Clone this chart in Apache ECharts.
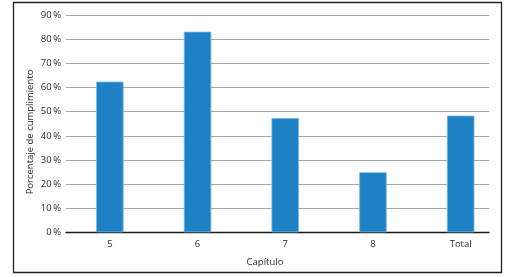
<!DOCTYPE html>
<html><head><meta charset="utf-8">
<script src="https://cdn.jsdelivr.net/npm/echarts@6/dist/echarts.min.js"></script>
<style>html,body{margin:0;padding:0;background:#fff}#c{width:516px;height:277px}</style>
</head><body><div id="c"></div>
<script>
var categories = ['5', '6', '7', '8', 'Total'];
var values = [0.625, 0.832, 0.474, 0.249, 0.484];
var yTicks = [0, 0.1, 0.2, 0.3, 0.4, 0.5, 0.6, 0.7, 0.8, 0.9];
var yTitle = 'Porcentaje de cumplimiento';
var xTitle = 'Capítulo';

var chart = echarts.init(document.getElementById('c'), null, {renderer: 'canvas'});
var font = '"Open Sans", "Noto Sans", sans-serif';
chart.setOption({
  animation: false,
  textStyle: {fontFamily: font},
  grid: [
    {left: 66, right: 27, top: 15.3, bottom: 44.7},
    {left: 66, width: 438.5, top: 15.3, bottom: 44.7}
  ],
  xAxis: [
    {gridIndex: 0, type: 'value', min: 0, max: 1, axisLabel: {show: false}, axisTick: {show: false},
     splitLine: {show: false}, axisLine: {show: true, lineStyle: {color: '#1a1a1a', width: 1.3}}},
    {gridIndex: 1, type: 'category', data: categories, axisLine: {show: false}, axisTick: {show: false},
     axisLabel: {color: '#2a2a2a', fontSize: 9.5, margin: 7, fontFamily: font}}
  ],
  yAxis: [
    {gridIndex: 0, type: 'value', min: 0, max: 0.9, interval: 0.1,
     axisLine: {show: false}, axisTick: {show: false},
     axisLabel: {color: '#2a2a2a', fontSize: 9.5, margin: 5, fontFamily: font,
       formatter: function (v) { return Math.round(v * 100) + '\u2009%'; }},
     splitLine: {show: true, lineStyle: {color: '#a6a6a6', width: 1}}},
    {gridIndex: 1, type: 'value', min: 0, max: 0.9, interval: 0.1, show: false}
  ],
  series: [{
    type: 'bar', xAxisIndex: 1, yAxisIndex: 1, data: values, barWidth: 27.5,
    itemStyle: {color: '#1e81c6', borderColor: '#7db7e3', borderWidth: 0.8}
  }],
  graphic: [
    {type: 'rect', shape: {x: 13.5, y: 2.5, width: 488, height: 270}, z: 100,
     style: {fill: 'none', stroke: '#222', lineWidth: 1.3}},
    {type: 'text', x: 30, y: 132, rotation: Math.PI / 2, z: 100,
     style: {text: yTitle, fill: '#2a2a2a', font: '9.5px ' + font, textAlign: 'center', textVerticalAlign: 'middle'}},
    {type: 'text', x: 265, y: 262, z: 100,
     style: {text: xTitle, fill: '#2a2a2a', font: '9.5px ' + font, textAlign: 'center', textVerticalAlign: 'middle'}}
  ]
});
</script></body></html>
